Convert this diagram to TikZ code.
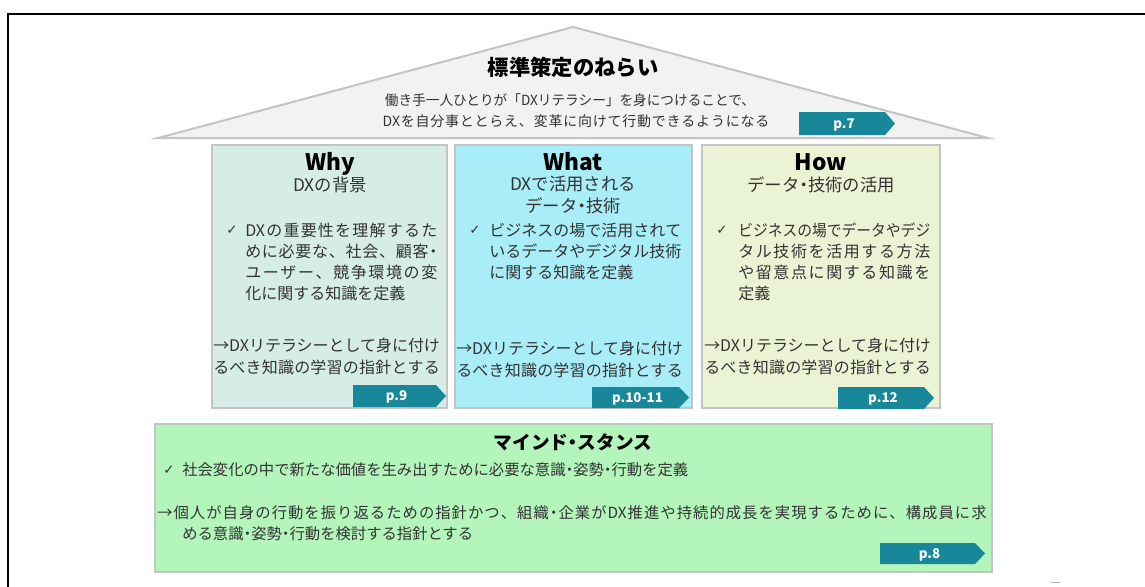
\documentclass[tikz,border=0pt]{standalone}
\usepackage{fontspec}
\usepackage{graphicx}
\setmainfont{Noto Sans CJK JP}
\newfontfamily\symfont{DejaVu Sans}
\definecolor{whyfill}{HTML}{D6ECE6}
\definecolor{whatfill}{HTML}{A8EDF8}
\definecolor{howfill}{HTML}{EAF4D4}
\definecolor{mindfill}{HTML}{B3F5BA}
\definecolor{rooffill}{HTML}{F2F2F2}
\definecolor{edgegray}{HTML}{C4C4C4}
\definecolor{badgecol}{HTML}{178799}
\definecolor{txtc}{HTML}{333333}
\newsavebox\jbox
\newcommand\nk{\kern-.25em・\kern-.25em}
\def\spreadfirst#1{#1\spreadloop}
\def\spreadloop#1{\ifx#1\relax\else\hfil#1\expandafter\spreadloop\fi}
\newcommand\jspread[2]{\sbox\jbox{#2}\ifdim\wd\jbox>#1\relax\resizebox{#1}{\height}{\usebox\jbox}\else\hbox to #1{\spreadfirst#2\relax}\fi}
\newcommand\badge[7]{%
  \fill[badgecol] (#2,#4) -- (#3,#4) -- ({#3+10},#5) -- (#3,#6) -- (#2,#6) -- cycle;
  \node[badgetxt] (#1) at ({(#2+#3)/2+2},#5) {#7};}
\tikzset{
  ln/.style={anchor=west, inner sep=0pt, text height=10.56pt, text depth=1.44pt, font=\fontsize{12}{14}\selectfont, text=txtc},
  lnb/.style={anchor=west, inner sep=0pt, text height=10.12pt, text depth=1.38pt, font=\fontsize{11.5}{14}\selectfont, text=txtc},
  chk/.style={anchor=west, inner sep=0pt, font=\symfont\fontsize{10}{12}\selectfont, text=txtc},
  ttl/.style={inner sep=0pt, text height=12.4pt, text depth=0pt, font=\bfseries\fontsize{17}{20}\selectfont, text=black},
  sub/.style={inner sep=0pt, text height=11.44pt, text depth=1.56pt, font=\fontsize{13}{15}\selectfont, text=txtc},
  roofttl/.style={inner sep=0pt, text height=14.08pt, text depth=1.92pt, font=\bfseries\fontsize{16}{18}\selectfont, text=black},
  mindttl/.style={inner sep=0pt, text height=12.32pt, text depth=1.68pt, font=\bfseries\fontsize{14}{16}\selectfont, text=black},
  roofln/.style={inner sep=0pt, text height=9.24pt, text depth=1.26pt, font=\fontsize{10.5}{12}\selectfont, text=txtc},
  badgetxt/.style={inner sep=0pt, text height=7.3pt, text depth=0pt, font=\bfseries\fontsize{10}{11}\selectfont, text=white},
  boxs/.style={draw=edgegray, line width=1.5pt}
}
\begin{document}
\begin{tikzpicture}[x=0.75pt,y=-0.75pt]
\useasboundingbox (0,0) rectangle (1145,586);
\fill[white] (0,0) rectangle (1145,586);
% frame
\draw[line width=1.5pt] (8,600) -- (8,14) -- (1160,14);
\draw[gray!60, line width=1.2pt] (1051,582.5) -- (1060,582.5);
% roof
\filldraw[fill=rooffill, draw=edgegray, line width=1.5pt] (158,138) -- (573,27) -- (988,138) -- cycle;
\node[roofttl] (rooft) at (573,67) {標準策定のねらい};
\node[roofln] (roof1) at (570,100) {\jspread{277.5pt}{働き手一人ひとりが「{DX}リテラシー」を身につけることで、}};
\node[roofln] (roof2) at (576,121) {\jspread{290pt}{{DX}を自分事ととらえ、変革に向けて行動できるようになる}};
\badge{b7}{799}{885}{112}{123.5}{135}{p.7}
% Why
\draw[boxs, fill=whyfill] (212,145) rectangle (447,408);
\node[ttl] (whyt) at (330,162) {Why};
\node[sub] (whys) at (330,185) {DXの背景};
\node[chk] (whyc) at (226,230) {✓};
\node[ln] (why1) at (245,230) {\jspread{144pt}{{DX}の重要性を理解するた}};
\node[ln] (why2) at (245,251) {\jspread{144pt}{めに必要な、社会、顧客\nk}};
\node[ln] (why3) at (245,272) {\jspread{144pt}{ユーザー、競争環境の変}};
\node[ln] (why4) at (245,293) {化に関する知識を定義};
\node[ln] (why5) at (213,345) {\jspread{170pt}{→{DX}リテラシーとして身に付け}};
\node[ln] (why6) at (213,367) {\jspread{170pt}{るべき知識の学習の指針とする}};
\badge{b9}{353}{436}{385}{396}{407}{p.9}
% What
\draw[boxs, fill=whatfill] (455,145) rectangle (692,408);
\node[ttl] (whatt) at (573,162) {What};
\node[sub] (whats1) at (573,184) {DXで活用される};
\node[sub] (whats2) at (573,206) {データ\nk 技術};
\node[chk] (whatc) at (469,230) {✓};
\node[ln] (what1) at (489,230) {\jspread{144pt}{ビジネスの場で活用されて}};
\node[ln] (what2) at (489,251) {\jspread{144pt}{いるデータやデジタル技術}};
\node[ln] (what3) at (489,272) {に関する知識を定義};
\node[ln] (what4) at (456,348) {\jspread{170pt}{→{DX}リテラシーとして身に付け}};
\node[ln] (what5) at (456,370) {\jspread{170pt}{るべき知識の学習の指針とする}};
\badge{b10}{592}{679}{387}{397.5}{408}{p.10-11}
% How
\draw[boxs, fill=howfill] (702,145) rectangle (940,408);
\node[ttl] (howt) at (821,162) {How};
\node[sub] (hows) at (821,185) {データ\nk 技術の活用};
\node[chk] (howc) at (716,230) {✓};
\node[ln] (how1) at (738,230) {\jspread{144pt}{ビジネスの場でデータやデジ}};
\node[ln] (how2) at (738,251) {\jspread{144pt}{タル技術を活用する方法}};
\node[ln] (how3) at (738,272) {\jspread{144pt}{や留意点に関する知識を}};
\node[ln] (how4) at (738,293) {定義};
\node[ln] (how5) at (704,345) {\jspread{170pt}{→{DX}リテラシーとして身に付け}};
\node[ln] (how6) at (704,367) {\jspread{170pt}{るべき知識の学習の指針とする}};
\badge{b12}{838}{924}{387}{398}{409}{p.12}
% Mind / stance
\draw[boxs, fill=mindfill] (155,424) rectangle (992,572);
\node[mindttl] (mindt) at (573,442) {マインド\nk スタンス};
\node[chk] (mindc) at (163,470) {✓};
\node[lnb] (mind1) at (182,470) {社会変化の中で新たな価値を生み出すために必要な意識\nk 姿勢\nk 行動を定義};
\node[lnb] (mind2) at (157,513) {\jspread{622pt}{→個人が自身の行動を振り返るための指針かつ、組織\nk 企業が{DX}推進や持続的成長を実現するために、構成員に求}};
\node[lnb] (mind3) at (182,534) {める意識\nk 姿勢\nk 行動を検討する指針とする};
\badge{b8}{880}{975}{543}{553.5}{564}{p.8}
\end{tikzpicture}
\end{document}
